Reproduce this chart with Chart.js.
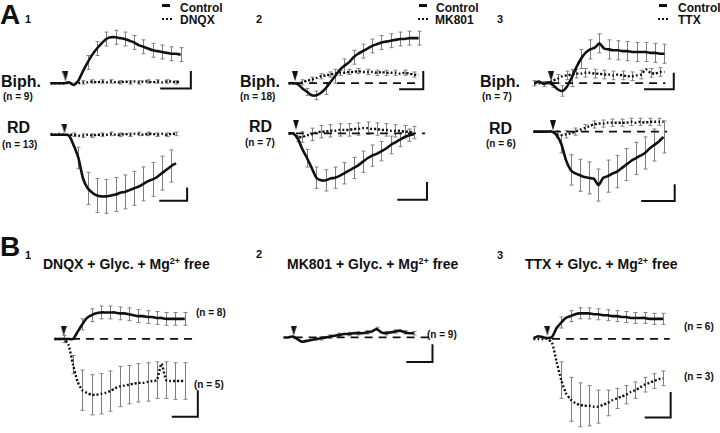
<!DOCTYPE html>
<html>
<head>
<meta charset="utf-8">
<script src="https://cdn.jsdelivr.net/npm/chart.js@4.4.1/dist/chart.umd.min.js"></script>
<style>
  body { margin: 0; background: #fff; width: 720px; height: 433px; overflow: hidden; position: relative;
         font-family: "Liberation Sans", Arial, sans-serif; font-weight: bold; color: #111; }
  canvas { position: absolute; }
  .t { position: absolute; white-space: nowrap; line-height: 1; }
  .big { font-size: 28px; }
  .num { font-size: 11px; }
  .lab { font-size: 16px; }
  .n { font-size: 10px; }
  .leg { font-size: 12px; }
  .ttl { font-size: 14px; }
  .ttl sup { font-size: 9px; vertical-align: 5px; }
  .solidmark { position: absolute; width: 8px; height: 3px; background: #111; }
  .dotmark { position: absolute; width: 10px; height: 0; border-top: 2px dotted #111; }
</style>
</head>
<body>
<div class="t big" style="left:0;top:1px">A</div>
<div class="t num" style="left:25px;top:14px">1</div>
<div class="t num" style="left:256px;top:14px">2</div>
<div class="t num" style="left:497px;top:14px">3</div>

<div class="solidmark" style="left:162px;top:4px"></div>
<div class="t leg" style="left:180px;top:2px">Control</div>
<div class="dotmark" style="left:162px;top:18px"></div>
<div class="t leg" style="left:180px;top:14px">DNQX</div>
<div class="solidmark" style="left:419px;top:4px"></div>
<div class="t leg" style="left:436px;top:2px">Control</div>
<div class="dotmark" style="left:418px;top:18px"></div>
<div class="t leg" style="left:435px;top:14px">MK801</div>
<div class="solidmark" style="left:659px;top:4px"></div>
<div class="t leg" style="left:678px;top:2px">Control</div>
<div class="dotmark" style="left:658px;top:18px"></div>
<div class="t leg" style="left:678px;top:14px">TTX</div>

<div class="t lab" style="left:1px;top:74px">Biph.</div>
<div class="t n" style="left:3px;top:92px">(n = 9)</div>
<div class="t lab" style="left:7px;top:120px">RD</div>
<div class="t n" style="left:2px;top:140px">(n = 13)</div>
<div class="t lab" style="left:240px;top:74px">Biph.</div>
<div class="t n" style="left:240px;top:92px">(n = 18)</div>
<div class="t lab" style="left:249px;top:119px">RD</div>
<div class="t n" style="left:245px;top:138px">(n = 7)</div>
<div class="t lab" style="left:480px;top:74px">Biph.</div>
<div class="t n" style="left:482px;top:92px">(n = 7)</div>
<div class="t lab" style="left:489px;top:121px">RD</div>
<div class="t n" style="left:486px;top:139px">(n = 6)</div>

<div class="t big" style="left:0;top:233px">B</div>
<div class="t num" style="left:25px;top:250px">1</div>
<div class="t num" style="left:256px;top:249px">2</div>
<div class="t num" style="left:497px;top:250px">3</div>
<div class="t ttl" style="left:43px;top:257px">DNQX + Glyc. + Mg<sup>2+</sup> free</div>
<div class="t ttl" style="left:287px;top:257px">MK801 + Glyc. + Mg<sup>2+</sup> free</div>
<div class="t ttl" style="left:525px;top:257px">TTX + Glyc. + Mg<sup>2+</sup> free</div>
<div class="t n" style="left:196px;top:308px">(n = 8)</div>
<div class="t n" style="left:194px;top:380px">(n = 5)</div>
<div class="t n" style="left:427px;top:330px">(n = 9)</div>
<div class="t n" style="left:684px;top:322px">(n = 6)</div>
<div class="t n" style="left:684px;top:372px">(n = 3)</div>

<canvas id="a1b" width="170" height="90" style="left:38px;top:20px"></canvas>
<canvas id="a1r" width="170" height="112" style="left:38px;top:110px"></canvas>
<canvas id="a2b" width="170" height="90" style="left:276px;top:20px"></canvas>
<canvas id="a2r" width="170" height="104" style="left:276px;top:108px"></canvas>
<canvas id="a3b" width="170" height="90" style="left:520px;top:20px"></canvas>
<canvas id="a3r" width="170" height="110" style="left:520px;top:106px"></canvas>
<canvas id="b1" width="175" height="140" style="left:40px;top:290px"></canvas>
<canvas id="b2" width="175" height="80" style="left:270px;top:300px"></canvas>
<canvas id="b3" width="165" height="140" style="left:520px;top:290px"></canvas>

<script>
// sample times (time after trace start, same units for every panel)
var t = [0,5,10,15,20,25,30,35,40,45,50,55,60,65,70,75,80,85,90,95,100,105,110,115,120,125,130,135,140];

// A1 - Control vs DNQX
var a1bCtrl   = [0,0,0,0,1,-2,3,14,24,33,40,46,51,53,53,52,51,49,47,44,42,40,38,37,36,35,34,34,33];
var a1bCtrlSd = [0,0,0,0,0,0,0,8,8,8,8,8,8,8,8,8,8,8,8,8,8,8,8,8,8,8,8,8,8];
var a1bDrug   = [0,0,0,0,0,-1,0,1,1,2,1,2,1,2,1,1,2,1,2,1,2,2,1,2,1,2,2,1,2];
var a1bDrugSd = [0,0,0,0,0,0,2,2,2,2,2,2,2,2,2,2,2,2,2,2,2,2,2,2,2,2,2,2,2];
var a1rCtrl   = [0,0,0,0,-1,-12,-26,-49,-60,-65,-68,-69,-69,-68,-67,-65,-64,-62,-60,-58,-55,-52,-50,-47,-43,-39,-35,-32];
var a1rCtrlSd = [0,0,0,0,0,6,12,16,18,19,19,19,19,19,19,19,19,19,19,19,19,19,19,19,19,18,18,18];
var a1rDrug   = [1,0,1,0,0,0,-1,-1,0,-1,0,0,0,1,0,0,1,0,1,1,0,1,1,0,1,0,1,1];
var a1rDrugSd = [0,0,0,0,2,2,2,2,2,2,2,2,2,2,2,2,2,2,2,2,2,2,2,2,2,2,2,2];

// A2 - Control vs MK801
var a2bCtrl   = [0,0,-1,-6,-10,-14,-14,-11,-6,1,8,15,20,24,30,34,37,40,43,45,47,48,49,50,51,51,52,52,52];
var a2bCtrlSd = [0,0,0,2,4,5,5,6,7,8,8,8,8,8,8,8,8,8,8,8,8,8,8,8,8,8,8,8,8];
var a2bDrug   = [0,0,0,1,3,4,6,8,9,10,11,12,12,13,13,14,13,13,13,12,13,12,12,12,11,12,11,10,9];
var a2bDrugSd = [0,0,3,3,3,3,3,3,3,3,3,3,3,3,3,3,3,3,3,3,3,3,3,3,3,3,3,3,3];
var a2rCtrl   = [0,0,-6,-18,-28,-39,-50,-53,-53,-51,-50,-48,-45,-42,-39,-36,-32,-28,-25,-23,-20,-17,-13,-10,-7,-4,-2,-1];
var a2rCtrlSd = [0,0,3,8,10,12,12,12,12,12,12,12,12,12,12,12,12,12,12,11,11,10,10,9,8,8,7,6];
var a2rDrug   = [0,0,-4,-4,-2,-1,1,2,2,3,3,4,4,4,5,5,6,6,5,5,4,4,3,3,3,2,2,1];
var a2rDrugSd = [0,0,5,6,7,7,7,7,7,7,7,7,7,7,7,7,7,7,7,7,7,7,7,7,7,7,7,7];

// A3 - Control vs TTX
var a3bCtrl   = [0,2,-1,1,-2,-7,-9,-4,6,18,28,35,39,41,46,40,39,38,38,37,37,36,36,36,36,35,35,34,34];
var a3bCtrlSd = [3,3,3,3,3,5,6,8,10,11,11,11,11,11,11,11,11,11,11,11,11,11,11,11,11,11,11,11,11];
var a3bDrug   = [0,0,0,0,3,5,8,9,10,11,11,12,12,11,11,10,10,9,10,9,8,8,9,10,16,12,11,13,13];
var a3bDrugSd = [0,0,0,0,5,5,5,5,5,5,5,5,5,5,5,5,5,5,5,5,5,5,5,5,5,5,5,5,5];
var a3rCtrl   = [0,0,0,0,0,-4,-14,-32,-43,-47,-49,-51,-52,-53,-60,-52,-50,-47,-45,-41,-37,-33,-30,-27,-24,-19,-15,-11,-6];
var a3rCtrlSd = [0,0,0,0,0,0,10,15,17,18,18,18,18,18,18,18,18,18,18,18,18,18,18,18,18,18,18,18,18];
var a3rDrug   = [0,0,0,0,0,-3,-4,-3,-2,0,2,4,6,8,9,9,10,10,10,10,10,11,10,11,10,11,11,11,11];
var a3rDrugSd = [0,0,0,0,0,4,4,4,4,4,4,4,4,4,4,4,4,4,4,4,4,4,4,4,4,4,4,4,4];

// B - solid = control-type response (upper), dotted = lower response
var b1Up      = [0,0,0,0,0,8,16,23,26,28,29,29,29,29,28,28,27,26,25,25,24,24,23,23,22,22,22,22,22];
var b1UpSd    = [0,0,4,0,0,4,6,6,7,7,7,7,7,7,7,7,7,7,7,7,7,7,7,7,7,7,7,7,7];
var b1Down    = [0,0,0,-6,-28,-47,-56,-59,-61,-61,-60,-59,-57,-54,-52,-51,-50,-49,-48,-48,-47,-46,-45,-27,-45,-46,-46,-46,-46];
var b1DownSd  = [0,0,0,0,10,18,22,22,22,22,22,22,22,22,22,22,21,21,21,21,21,20,20,20,20,20,20,20,20];
var b2Up      = [0,0,1,-2,-5,-4,-3,-2,-1,0,1,2,3,4,4,5,5,5,6,7,10,6,5,6,7,8,6,5,5];
var b2UpSd    = [0,0,0,0,0,0,0,0,2,2,2,2,2,2,2,2,2,2,2,2,2,2,2,2,2,2,2,2,2];
var b3Up      = [1,3,2,1,2,12,18,23,25,27,28,28,28,27,27,26,26,25,25,24,24,23,23,23,23,22,22,22,22];
var b3UpSd    = [0,0,0,0,0,6,6,6,6,6,6,6,6,6,6,6,6,6,6,6,6,6,6,6,6,6,6,6,6];
var b3Down    = [0,0,0,0,-4,-25,-45,-59,-66,-70,-72,-73,-73,-74,-74,-72,-70,-67,-65,-63,-61,-58,-56,-53,-50,-48,-46,-44,-43];
var b3DownSd  = [0,0,0,0,0,10,20,24,24,24,24,24,22,20,18,16,14,12,11,10,10,9,9,8,8,8,8,8,8];

function pts(v) { return v.map(function (y, i) { return { x: t[i], y: y }; }); }

// narrow down-pointing arrowhead used as point style
var arrow = document.createElement('canvas');
arrow.width = 6; arrow.height = 10;
(function () {
  var c = arrow.getContext('2d');
  c.fillStyle = '#111';
  c.beginPath(); c.moveTo(0, 0); c.lineTo(6, 0); c.lineTo(3, 10); c.closePath(); c.fill();
})();

var errorBars = {
  id: 'errorBars',
  beforeDatasetsDraw: function (chart) {
    var ctx = chart.ctx, xs = chart.scales.x, ys = chart.scales.y;
    ctx.save();
    ctx.strokeStyle = '#808080'; ctx.lineWidth = 1;
    chart.data.datasets.forEach(function (ds) {
      if (!ds.sd) return;
      ds.data.forEach(function (p, i) {
        var s = ds.sd[i];
        if (!s || i % 2 !== ds.errPhase) return;
        var x = Math.round(xs.getPixelForValue(p.x)) + 0.5;
        var y1 = ys.getPixelForValue(p.y + s), y2 = ys.getPixelForValue(p.y - s);
        ctx.beginPath();
        ctx.moveTo(x, y1); ctx.lineTo(x, y2);
        ctx.moveTo(x - 2, y1); ctx.lineTo(x + 2, y1);
        ctx.moveTo(x - 2, y2); ctx.lineTo(x + 2, y2);
        ctx.stroke();
      });
    });
    ctx.restore();
  }
};

var scaleBar = {
  id: 'scaleBar',
  afterDraw: function (chart, args, o) {
    if (!o || o.x === undefined) return;
    var ctx = chart.ctx, xs = chart.scales.x, ys = chart.scales.y;
    var xr = xs.getPixelForValue(o.x), xl = xs.getPixelForValue(o.x - o.w);
    var yb = ys.getPixelForValue(o.y), yt = ys.getPixelForValue(o.y + o.h);
    ctx.save();
    ctx.strokeStyle = '#111'; ctx.lineWidth = 2;
    ctx.beginPath(); ctx.moveTo(xl, yb); ctx.lineTo(xr, yb); ctx.lineTo(xr, yt); ctx.stroke();
    ctx.restore();
  }
};

function trace(v, sd, dotted, phase) {
  return {
    data: pts(v), sd: sd, errPhase: phase || 0,
    borderColor: '#111', borderWidth: dotted ? 2.4 : 2.6,
    borderDash: dotted ? [2, 2] : [], pointRadius: 0, tension: 0.2
  };
}
function baseline(a, b) {
  return { data: [{ x: a, y: 0 }, { x: b, y: 0 }], borderColor: '#111', borderWidth: 1.8,
           borderDash: [8, 6], pointRadius: 0 };
}
function stim(x, y) {
  return { data: [{ x: x, y: y }], showLine: false, pointStyle: arrow, pointRadius: 5 };
}

// canvas placement: left/top in page px, x0/base = page px of t=0 and of zero response
function panel(id, left, top, w, h, x0, base, datasets, bar) {
  new Chart(document.getElementById(id), {
    type: 'line',
    data: { datasets: datasets },
    options: {
      responsive: false, animation: false, events: [],
      layout: { padding: 0 },
      plugins: { legend: { display: false }, tooltip: { enabled: false }, scaleBar: bar },
      scales: {
        x: { type: 'linear', display: false, min: left - x0, max: left + w - x0 },
        y: { type: 'linear', display: false, min: base - (top + h), max: base - top }
      }
    },
    plugins: [errorBars, scaleBar]
  });
}

panel('a1b', 38, 20, 170, 90, 45, 86,
  [trace(a1bDrug, a1bDrugSd, true, 1), trace(a1bCtrl, a1bCtrlSd, false), stim(16, 8)],
  { x: 151, y: -6, w: 33, h: 20 });
panel('a1r', 38, 110, 170, 112, 45, 131,
  [trace(a1rDrug, a1rDrugSd, true, 1), trace(a1rCtrl, a1rCtrlSd, false), stim(15, 7)],
  { x: 147, y: -74, w: 30, h: 15 });
panel('a2b', 276, 20, 170, 90, 283, 86,
  [baseline(7, 142), trace(a2bDrug, a2bDrugSd, true, 1), trace(a2bCtrl, a2bCtrlSd, false), stim(7, 8)],
  { x: 145, y: -7, w: 26, h: 21 });
panel('a2r', 276, 108, 170, 104, 283, 130,
  [baseline(8, 147), trace(a2rDrug, a2rDrugSd, true, 1), trace(a2rCtrl, a2rCtrlSd, false), stim(8, 10)],
  { x: 149, y: -75, w: 32, h: 20 });
panel('a3b', 520, 20, 170, 90, 529, 86,
  [baseline(18, 141), trace(a3bDrug, a3bDrugSd, true, 1), trace(a3bCtrl, a3bCtrlSd, false), stim(18, 8)],
  { x: 150, y: -7, w: 32, h: 19 });
panel('a3r', 520, 106, 170, 110, 528, 128,
  [baseline(21, 144), trace(a3rDrug, a3rDrugSd, true, 1), trace(a3rCtrl, a3rCtrlSd, false), stim(21, 7)],
  { x: 152, y: -78, w: 36, h: 19 });
panel('b1', 40, 290, 175, 140, 49, 337,
  [baseline(19, 149), trace(b1Down, b1DownSd, true), trace(b1Up, b1UpSd, false), stim(10, 9)],
  { x: 154, y: -85, w: 28, h: 29 });
panel('b2', 270, 300, 175, 80, 278, 337,
  [baseline(12, 157), trace(b2Up, b2UpSd, false), stim(11, 8)],
  { x: 160, y: -29, w: 28, h: 21 });
panel('b3', 520, 290, 165, 140, 528, 337,
  [baseline(20, 147), trace(b3Down, b3DownSd, true), trace(b3Up, b3UpSd, false), stim(15, 9)],
  { x: 148, y: -86, w: 28, h: 28 });
</script>
</body>
</html>
